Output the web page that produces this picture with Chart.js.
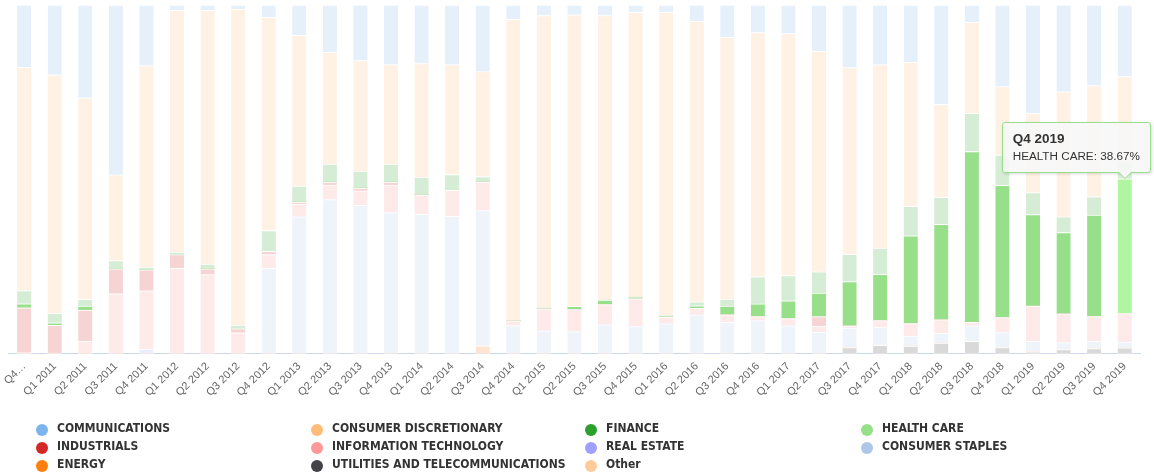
<!DOCTYPE html>
<html>
<head>
<meta charset="utf-8">
<script src="https://cdn.jsdelivr.net/npm/chart.js@4.4.1/dist/chart.umd.min.js"></script>
<style>
    body { margin: 0; background: #fff; }
    #wrap { position: relative; width: 1154px; height: 475px; overflow: hidden; }
    #chartBox { position: absolute; left: 0; top: 0; width: 1154px; height: 405px; }
    #legend { position: absolute; left: 0; top: 0; width: 1154px; height: 475px; pointer-events: none; }
    .lg { position: absolute; height: 18px; line-height: 18px; white-space: nowrap;
          font: bold 12px "DejaVu Sans Condensed", "DejaVu Sans", sans-serif; color: #333; }
    .lg i { position: absolute; left: -21px; top: 3px; width: 12px; height: 12px; border-radius: 50%; }
    #tip { position: absolute; display: none; padding: 7px 10px 8px 10px; white-space: nowrap;
           background: rgba(247,247,247,0.9); border: 1px solid #98df8a; border-radius: 3px;
           box-shadow: 1px 1px 3px rgba(0,0,0,0.15); color: #333;
           font: 11.7px "Liberation Sans", Arial, sans-serif; line-height: 17px; }
    #tip b { font-size: 13.5px; }
    #tip:before, #tip:after { content: ''; position: absolute; width: 0; height: 0; border-style: solid; }
    #tip:before { right: 18px; bottom: -7px; border-width: 7px 7px 0 7px; border-color: #98df8a transparent transparent transparent; }
    #tip:after { right: 19px; bottom: -6px; border-width: 6px 6px 0 6px; border-color: #f7f7f7 transparent transparent transparent; }
</style>
</head>
<body>
<div id="wrap">
    <div id="chartBox"><canvas id="sector-chart"></canvas></div>
    <div id="legend"></div>
    <div id="tip"></div>
</div>
<script>
/* ── DATA ─────────────────────────────────────────────── */

var QUARTERS = [
    'Q4 2010', 'Q1 2011', 'Q2 2011', 'Q3 2011', 'Q4 2011', 'Q1 2012', 'Q2 2012', 'Q3 2012', 'Q4 2012',
    'Q1 2013', 'Q2 2013', 'Q3 2013', 'Q4 2013', 'Q1 2014', 'Q2 2014', 'Q3 2014', 'Q4 2014',
    'Q1 2015', 'Q2 2015', 'Q3 2015', 'Q4 2015', 'Q1 2016', 'Q2 2016', 'Q3 2016', 'Q4 2016',
    'Q1 2017', 'Q2 2017', 'Q3 2017', 'Q4 2017', 'Q1 2018', 'Q2 2018', 'Q3 2018', 'Q4 2018',
    'Q1 2019', 'Q2 2019', 'Q3 2019', 'Q4 2019'
];

var TICK_LABELS = [
    'Q4\u2026', 'Q1 2011', 'Q2 2011', 'Q3 2011', 'Q4 2011', 'Q1 2012', 'Q2 2012', 'Q3 2012', 'Q4 2012',
    'Q1 2013', 'Q2 2013', 'Q3 2013', 'Q4 2013', 'Q1 2014', 'Q2 2014', 'Q3 2014', 'Q4 2014',
    'Q1 2015', 'Q2 2015', 'Q3 2015', 'Q4 2015', 'Q1 2016', 'Q2 2016', 'Q3 2016', 'Q4 2016',
    'Q1 2017', 'Q2 2017', 'Q3 2017', 'Q4 2017', 'Q1 2018', 'Q2 2018', 'Q3 2018', 'Q4 2018',
    'Q1 2019', 'Q2 2019', 'Q3 2019', 'Q4 2019'
];

// share of holdings per sector, % of total
var COMMUNICATIONS = [17.9, 20.0, 26.6, 48.7, 17.4, 1.5, 1.5, 1.15, 3.55, 8.7, 13.6, 15.9, 17.1, 16.8, 17.1, 19.1, 4.1,
    3.0, 2.8, 3.0, 2.1, 2.1, 4.7, 9.3, 7.9, 8.2, 13.3, 17.95, 17.1, 16.4, 28.5, 5.0, 23.4, 31.1, 24.9, 23.1, 20.5];
var CONSUMER_DISCRETIONARY = [64.0, 68.4, 57.8, 24.6, 57.75, 69.3, 72.8, 90.6, 61.1, 43.2, 32.0, 31.7, 28.5, 32.5, 31.5, 30.1, 86.45,
    83.7, 83.6, 81.6, 81.65, 87.0, 80.4, 75.0, 70.0, 69.4, 63.2, 53.55, 52.6, 41.35, 26.65, 26.05, 19.65, 22.7, 35.85, 31.9, 24.3];
var FINANCE = [3.75, 2.7, 1.9, 2.3, 0.75, 0.75, 1.3, 0.98, 5.95, 4.6, 5.2, 4.9, 5.2, 5.2, 4.5, 1.6, 0,
    0, 0, 0, 0, 0, 1.15, 2.0, 7.8, 7.2, 6.05, 7.8, 7.5, 8.4, 7.7, 10.95, 8.65, 6.3, 4.5, 5.2, 5.0];
var HEALTH_CARE = [1.15, 0.7, 1.15, 0, 0, 0, 0, 0, 0, 0, 0, 0, 0, 0, 0, 0, 0,
    0.4, 0.95, 1.3, 0.45, 0.4, 0.7, 2.5, 3.65, 5.1, 6.8, 12.7, 13.3, 25.2, 27.4, 49.0, 37.9, 26.2, 23.3, 29.1, 38.67];
var INDUSTRIALS = [12.9, 8.0, 8.9, 7.2, 6.05, 3.95, 1.7, 1.24, 0.95, 0.6, 0.8, 0.8, 0.8, 0, 0, 0, 0,
    0, 0, 0, 0, 0, 0, 0, 0, 0, 2.7, 0, 0, 0, 0, 0, 0, 0, 0, 0, 0];
var INFORMATION_TECHNOLOGY = [0.3, 0.2, 3.65, 17.2, 16.7, 24.5, 22.7, 6.03, 3.95, 3.6, 4.2, 4.1, 7.9, 5.5, 7.5, 8.1, 1.35,
    6.3, 6.3, 5.8, 8.0, 1.9, 1.9, 2.2, 1.15, 2.1, 1.7, 0.6, 1.9, 3.55, 3.85, 0.95, 4.3, 10.1, 8.2, 7.1, 8.13];
var REAL_ESTATE = [0, 0, 0, 0, 1.35, 0, 0, 0, 0, 0, 0, 0, 0, 0, 0, 0, 0,
    0, 0, 0, 0, 0, 0, 0, 0, 0, 0, 0, 0, 0, 0, 0, 0, 0, 0, 0, 0];
var CONSUMER_STAPLES = [0, 0, 0, 0, 0, 0, 0, 0, 24.5, 39.3, 44.2, 42.6, 40.5, 40.0, 39.4, 38.8, 8.1,
    6.6, 6.35, 8.3, 7.8, 8.6, 11.15, 9.0, 9.5, 8.0, 6.25, 5.6, 5.2, 2.9, 2.8, 4.5, 4.3, 3.0, 2.0, 2.1, 1.7];
var ENERGY = [0, 0, 0, 0, 0, 0, 0, 0, 0, 0, 0, 0, 0, 0, 0, 2.3, 0,
    0, 0, 0, 0, 0, 0, 0, 0, 0, 0, 0, 0, 0, 0, 0, 0, 0, 0, 0, 0];
var UTILITIES_TELECOM = [0, 0, 0, 0, 0, 0, 0, 0, 0, 0, 0, 0, 0, 0, 0, 0, 0,
    0, 0, 0, 0, 0, 0, 0, 0, 0, 0, 1.8, 2.4, 2.2, 3.1, 3.55, 1.8, 0.6, 1.25, 1.5, 1.7];
var OTHER = [0, 0, 0, 0, 0, 0, 0, 0, 0, 0, 0, 0, 0, 0, 0, 0, 0,
    0, 0, 0, 0, 0, 0, 0, 0, 0, 0, 0, 0, 0, 0, 0, 0, 0, 0, 0, 0];

// legend order = top of stack first
var SERIES = [
    { label: 'COMMUNICATIONS',                  data: COMMUNICATIONS,         color: '#7cb5ec' },
    { label: 'CONSUMER DISCRETIONARY',          data: CONSUMER_DISCRETIONARY, color: '#ffbb78' },
    { label: 'FINANCE',                         data: FINANCE,                color: '#2ca02c' },
    { label: 'HEALTH CARE',                     data: HEALTH_CARE,            color: '#98df8a' },
    { label: 'INDUSTRIALS',                     data: INDUSTRIALS,            color: '#d62728' },
    { label: 'INFORMATION TECHNOLOGY',          data: INFORMATION_TECHNOLOGY, color: '#ff9896' },
    { label: 'REAL ESTATE',                     data: REAL_ESTATE,            color: '#9f9fff' },
    { label: 'CONSUMER STAPLES',                data: CONSUMER_STAPLES,       color: '#aec7e8' },
    { label: 'ENERGY',                          data: ENERGY,                 color: '#ff7f0e' },
    { label: 'UTILITIES AND TELECOMMUNICATIONS', data: UTILITIES_TELECOM,     color: '#434348' },
    { label: 'Other',                           data: OTHER,                  color: '#ffcc99' }
];

var FOCUS_SERIES = 'HEALTH CARE';
var FOCUS_INDEX  = QUARTERS.length - 1;

/* ── HELPERS ──────────────────────────────────────────── */

function fade(hex, a) {
    var r = parseInt(hex.substr(1, 2), 16), g = parseInt(hex.substr(3, 2), 16), b = parseInt(hex.substr(5, 2), 16);
    var mix = function(c) { return Math.round(255 - (255 - c) * a); };
    return 'rgb(' + mix(r) + ',' + mix(g) + ',' + mix(b) + ')';
}

function renderLegend() {
    var cols = [57, 332, 606, 882];
    var rows = [421, 439, 457];
    document.getElementById('legend').innerHTML = SERIES.map(function(s, i) {
        return '<div class="lg" style="left:' + cols[i % 4] + 'px;top:' + rows[Math.floor(i / 4)] + 'px;">' +
            '<i style="background:' + s.color + ';"></i>' + s.label + '</div>';
    }).join('');
}

function externalTip(ctx) {
    var t  = ctx.tooltip;
    var el = document.getElementById('tip');
    if (t.opacity === 0 || !t.dataPoints || !t.dataPoints.length) { el.style.display = 'none'; return; }
    var dp = t.dataPoints[0];
    el.innerHTML = '<b>' + dp.label + '</b><br>' + dp.dataset.label + ': ' + dp.raw.toFixed(2) + '%';
    el.style.display = 'block';
    el.style.left = (t.caretX + 26 - el.offsetWidth) + 'px';
    el.style.top  = (t.caretY - 6 - el.offsetHeight) + 'px';
}

/* ── CHART ────────────────────────────────────────────── */

function renderChart() {
    var stackOrder = SERIES.slice().reverse();   // Chart.js stacks first dataset at the bottom
    var datasets = stackOrder.map(function(s) {
        var isFocus = s.label === FOCUS_SERIES;
        var base = isFocus ? s.color : fade(s.color, 0.2);
        return {
            label: s.label,
            data: s.data,
            backgroundColor: base,
            hoverBackgroundColor: isFocus ? '#b0f59f' : base,
            borderColor: '#fff', hoverBorderColor: '#fff',
            borderWidth: { top: 1, left: 0, right: 0, bottom: 0 },
            borderSkipped: false,
            barThickness: 14
        };
    });

    var chart = new Chart(document.getElementById('sector-chart'), {
        type: 'bar',
        data: { labels: QUARTERS, datasets: datasets },
        options: {
            responsive: true, maintainAspectRatio: false,
            animation: false,
            events: [],
            layout: { padding: { top: 5, left: 0, right: 14, bottom: 0 } },
            plugins: {
                legend: { display: false },
                tooltip: { enabled: false, external: externalTip, mode: 'nearest', intersect: true }
            },
            scales: {
                x: {
                    stacked: true,
                    grid: { display: false, drawTicks: false },
                    border: { display: true, color: '#ccd6eb', width: 1 },
                    ticks: {
                        autoSkip: false, maxRotation: 45, minRotation: 45, padding: 6,
                        color: '#666', font: { family: '"Liberation Sans", Arial, sans-serif', size: 11 },
                        callback: function(v, i) { return TICK_LABELS[i]; }
                    }
                },
                y: { stacked: true, display: false, min: 0, max: 100 }
            }
        }
    });

    var focusDs = stackOrder.map(function(s) { return s.label; }).indexOf(FOCUS_SERIES);
    var active = [{ datasetIndex: focusDs, index: FOCUS_INDEX }];
    chart.setActiveElements(active);
    chart.tooltip.setActiveElements(active, { x: 0, y: 0 });
    chart.update();
}

renderLegend();
renderChart();
</script>
</body>
</html>
